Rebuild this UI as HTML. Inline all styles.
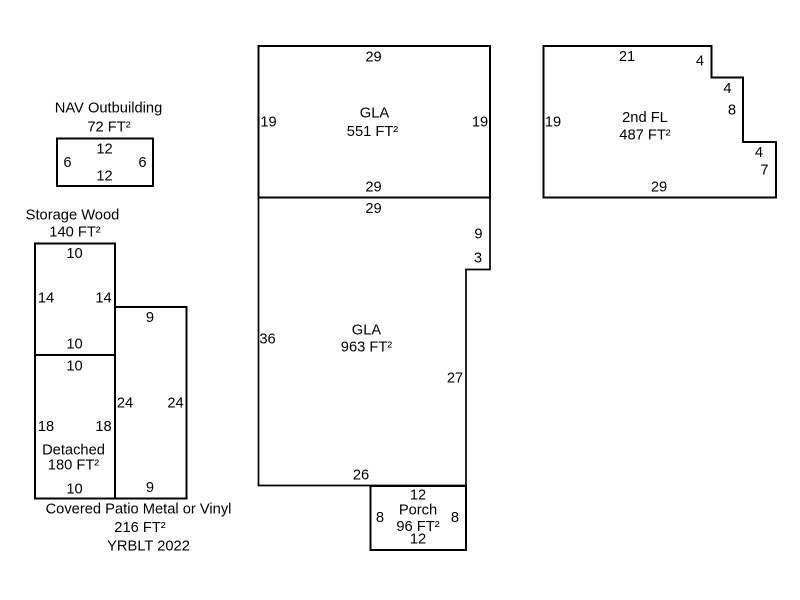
<!DOCTYPE html>
<html><head><meta charset="utf-8"><style>
html,body{margin:0;padding:0;background:#fff;}
svg{display:block;}
text{font-family:"Liberation Sans",Arial,sans-serif;font-size:14.7px;fill:#000;text-anchor:middle;}
</style></head><body>
<svg width="800" height="600" viewBox="0 0 800 600" xmlns="http://www.w3.org/2000/svg">
<g fill="none" stroke="#000" stroke-width="2" stroke-linejoin="miter">
<!-- NAV Outbuilding -->
<rect x="57" y="138.5" width="96" height="47.5"/>
<!-- Storage Wood -->
<rect x="35" y="243.5" width="80" height="111.5"/>
<!-- Detached -->
<rect x="35" y="355" width="80" height="143.5"/>
<!-- Covered Patio -->
<polyline points="115,307 186.5,307 186.5,498.5 115,498.5"/>
<!-- GLA upper -->
<rect x="258.5" y="46" width="231.5" height="151.5"/>
<!-- 2nd FL -->
<polygon points="543.5,46 711.5,46 711.5,77.5 743,77.5 743,142 776,142 776,197.5 543.5,197.5"/>
<!-- Porch -->
<rect x="370.5" y="486" width="95.5" height="64"/>
</g>
<g fill="none" stroke="#000" stroke-width="1.7">
<!-- GLA lower -->
<polyline points="258.5,197.5 258.5,485.5 466,485.5 466,269.5 490,269.5 490,197.5"/>
</g>

<!-- NAV Outbuilding -->
<text x="108.5" y="112.5">NAV Outbuilding</text>
<text x="109" y="131.5">72 FT²</text>
<text x="104.5" y="153.5">12</text>
<text x="67.5" y="167">6</text>
<text x="142.5" y="167">6</text>
<text x="104.5" y="180.5">12</text>

<!-- Storage Wood -->
<text x="72.5" y="219.5">Storage Wood</text>
<text x="75" y="236.5">140 FT²</text>
<text x="74.5" y="258">10</text>
<text x="46" y="302.5">14</text>
<text x="103.5" y="302.5">14</text>
<text x="74.5" y="348.5">10</text>

<!-- Detached -->
<text x="74.5" y="370.5">10</text>
<text x="46" y="431">18</text>
<text x="103.5" y="431">18</text>
<text x="73.5" y="454.5">Detached</text>
<text x="73.5" y="469.5">180 FT²</text>
<text x="74.5" y="493.5">10</text>

<!-- Patio -->
<text x="150" y="322">9</text>
<text x="125" y="407.5">24</text>
<text x="175.5" y="407.5">24</text>
<text x="150" y="492">9</text>
<text x="138.5" y="513.5">Covered Patio Metal or Vinyl</text>
<text x="140" y="532">216 FT²</text>
<text x="148.5" y="550.5">YRBLT 2022</text>

<!-- GLA upper -->
<text x="373.5" y="61.5">29</text>
<text x="374.5" y="117.5">GLA</text>
<text x="372.5" y="136">551 FT²</text>
<text x="268.5" y="126.5">19</text>
<text x="480" y="126.5">19</text>
<text x="373.5" y="191.5">29</text>

<!-- GLA lower -->
<text x="373.5" y="213">29</text>
<text x="478.5" y="238.5">9</text>
<text x="478" y="262.5">3</text>
<text x="267.5" y="343.5">36</text>
<text x="366.5" y="334.5">GLA</text>
<text x="366.5" y="351.5">963 FT²</text>
<text x="455" y="382.5">27</text>
<text x="361" y="479.5">26</text>

<!-- Porch -->
<text x="418" y="499.5">12</text>
<text x="418" y="514.5">Porch</text>
<text x="380" y="522">8</text>
<text x="455" y="522">8</text>
<text x="418" y="531">96 FT²</text>
<text x="418" y="543.5">12</text>

<!-- 2nd FL -->
<text x="627" y="61">21</text>
<text x="700" y="65.5">4</text>
<text x="727.5" y="93">4</text>
<text x="732" y="114.5">8</text>
<text x="553" y="126.5">19</text>
<text x="645" y="122">2nd FL</text>
<text x="645" y="139.5">487 FT²</text>
<text x="759" y="157">4</text>
<text x="764.5" y="174.5">7</text>
<text x="659" y="191.5">29</text>
</svg>
</body></html>
